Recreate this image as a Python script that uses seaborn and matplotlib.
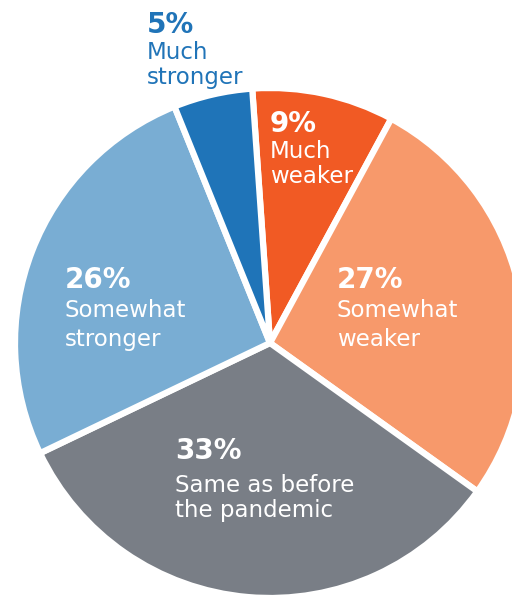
import matplotlib
matplotlib.use("Agg")
import matplotlib.pyplot as plt
import seaborn as sns

# Data
categories = ["Much weaker", "Somewhat weaker", "Same as before\nthe pandemic",
              "Somewhat stronger", "Much\nstronger"]
shares = [9, 27, 33, 26, 5]
colors = ["#F15A24", "#F7996B", "#797E86", "#79ADD3", "#1F74B8"]

sns.set_theme(style="white")
plt.rcParams["font.family"] = ["DejaVu Sans"]

W, H = 512, 597
fig = plt.figure(figsize=(W / 100, H / 100), dpi=100)
ax = fig.add_axes([0, 0, 1, 1])

# pie centre (270, 343) px, radius 255 px
cx, cy, r = 270, 343, 255
ax.pie(shares, colors=colors, startangle=94, counterclock=False,
       wedgeprops=dict(edgecolor="white", linewidth=4.5))
ax.set_xlim(-cx / r, (W - cx) / r)
ax.set_ylim(-(H - cy) / r, cy / r)
ax.set_aspect("auto")
ax.axis("off")


def px(x, y):
    return x / W, 1 - y / H


# label blocks: (left x, baselines...) in pixels
label_pos = [
    (270, [132, 158, 183]),
    (337, [288, 317, 346]),
    (175, [459, 492, 517]),
    (65, [288, 317, 346]),
    (147, [33, 59, 84]),
]
label_lines = [
    ["Much", "weaker"],
    ["Somewhat", "weaker"],
    ["Same as before", "the pandemic"],
    ["Somewhat", "stronger"],
    ["Much", "stronger"],
]
text_colors = ["white", "white", "white", "white", "#2074B8"]

for share, lines, (x, ys), tc in zip(shares, label_lines, label_pos, text_colors):
    fig.text(*px(x, ys[0]), f"{share}%", color=tc, fontsize=20,
             fontweight="bold", ha="left", va="baseline")
    for line, y in zip(lines, ys[1:]):
        fig.text(*px(x, y), line, color=tc, fontsize=16.5,
                 ha="left", va="baseline")

fig.savefig("out.png", dpi=100, facecolor="white")
